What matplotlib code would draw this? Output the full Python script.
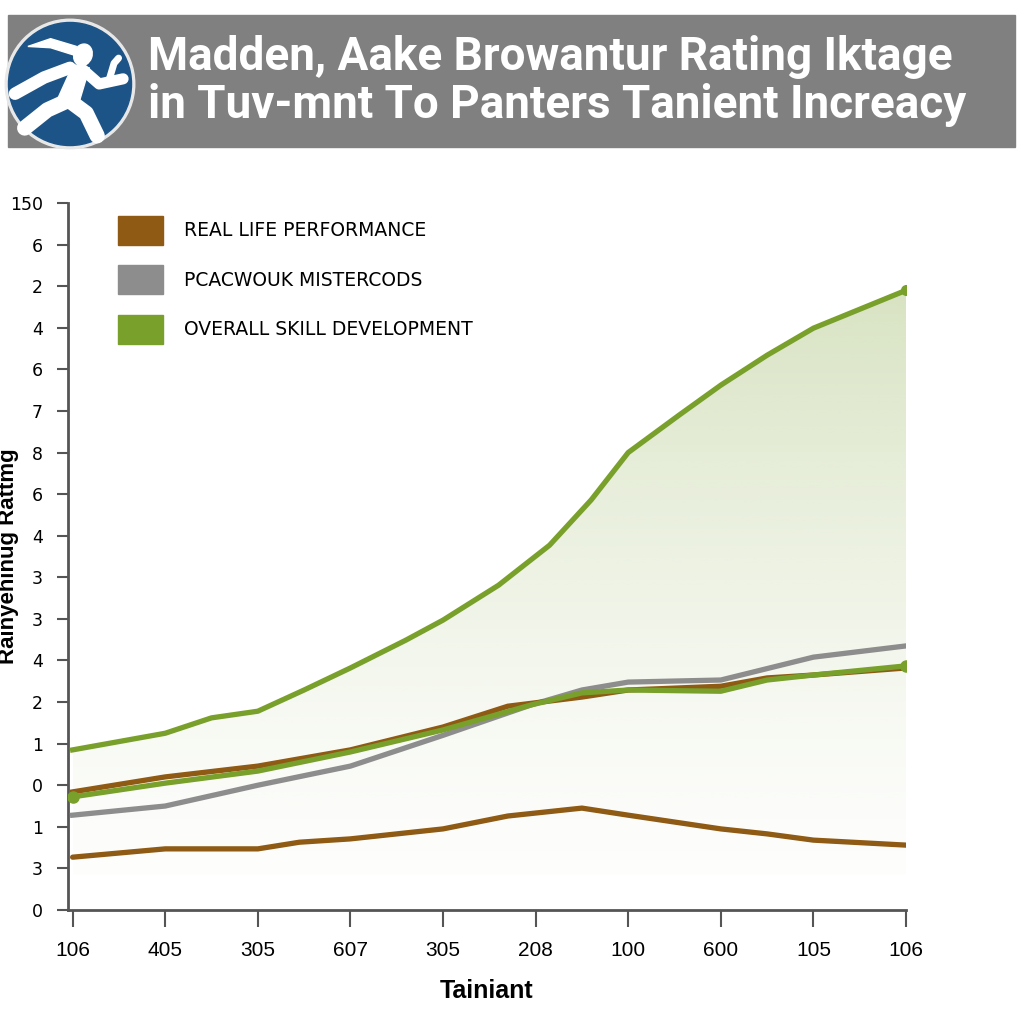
import matplotlib
matplotlib.use("Agg")
import matplotlib.pyplot as plt
import numpy as np
from matplotlib.patches import Rectangle, Circle, Ellipse, Polygon, Patch

# chart values
x_labels = ["106", "405", "305", "607", "305", "208", "100", "600", "105", "106"]
y_labels = ["0", "3", "1", "0", "1", "2", "4", "3", "3", "4", "6", "8", "7", "6", "4", "2", "6", "150"]

skill_top_x = [0, 1, 1.5, 2, 2.5, 3, 3.6, 4, 4.6, 5.15, 5.6, 6, 6.55, 7, 7.5, 8, 9]
skill_top_y = [3.85, 4.25, 4.62, 4.78, 5.29, 5.82, 6.49, 6.97, 7.81, 8.77, 9.86, 11.0, 11.9, 12.62, 13.34, 13.99, 14.9]

real_top_x = [0, 1, 2, 3, 4, 4.7, 5.5, 6, 7, 7.5, 8, 9]
real_top_y = [2.84, 3.2, 3.46, 3.85, 4.4, 4.9, 5.12, 5.29, 5.38, 5.58, 5.65, 5.82]

gray_x = [0, 1, 2, 3, 4, 4.95, 5.5, 6, 7, 8, 9]
gray_y = [2.28, 2.5, 3.0, 3.46, 4.2, 4.93, 5.29, 5.48, 5.53, 6.08, 6.35]

skill_low_x = [0, 1, 2, 3, 4, 4.95, 5.5, 6, 7, 7.5, 8, 9]
skill_low_y = [2.72, 3.05, 3.34, 3.8, 4.33, 4.93, 5.22, 5.29, 5.26, 5.53, 5.65, 5.87]

real_low_x = [0, 1, 2, 2.45, 3, 4, 4.7, 5.5, 6, 7, 7.5, 8, 9]
real_low_y = [1.27, 1.47, 1.47, 1.63, 1.71, 1.95, 2.26, 2.45, 2.28, 1.95, 1.83, 1.68, 1.56]

legend_names = ["REAL LIFE PERFORMANCE", "PCACWOUK MISTERCODS", "OVERALL SKILL DEVELOPMENT"]

brown = "#8e5a14"
gray = "#8d8d8d"
green = "#78a02a"

fig = plt.figure(figsize=(10.24, 10.24), dpi=100)
W = H = 1024.0

# title banner
fig.patches.append(Rectangle((8 / W, 1 - 147 / H), 1007 / W, 132 / H,
                             transform=fig.transFigure, color="#808080", zorder=-5))
fig.text(148 / W, 1 - 57 / H, "Madden, Aake Browantur Rating Iktage", color="white",
         fontsize=33, fontweight="bold", family="Roboto", va="center", ha="left")
fig.text(148 / W, 1 - 105 / H, "in Tuv-mnt To Panters Tanient Increacy", color="white",
         fontsize=33, fontweight="bold", family="Roboto", va="center", ha="left")

# logo
lax = fig.add_axes([2 / W, 1 - 152 / H, 136 / W, 136 / H], zorder=5)
lax.set_xlim(-1.05, 1.05)
lax.set_ylim(-1.05, 1.05)
lax.set_aspect("equal")
lax.axis("off")
lax.add_patch(Circle((0, 0), 1.0, color="#e8e8e8"))
lax.add_patch(Circle((0, 0), 0.95, color="#1d5487"))
w = "white"
lax.add_patch(Ellipse((0.2, 0.45), 0.28, 0.34, angle=-20, color=w))
lax.add_patch(Polygon([(0.1, 0.58), (-0.3, 0.7), (-0.65, 0.58), (-0.3, 0.56), (0.05, 0.45)], color=w))
lax.add_patch(Polygon([(0.05, 0.3), (0.3, 0.25), (0.15, -0.25), (-0.2, -0.25)], color=w))
for xs, ys, lw in [([0.0, -0.4, -0.85], [0.25, 0.1, -0.15], 9),
                   ([0.2, 0.45, 0.82], [0.22, 0.0, 0.08], 8),
                   ([0.6, 0.68, 0.75], [0.05, 0.32, 0.4], 5),
                   ([-0.02, 0.25, 0.42], [-0.25, -0.45, -0.8], 11),
                   ([-0.02, -0.35, -0.7], [-0.25, -0.4, -0.68], 11)]:
    lax.plot(xs, ys, color=w, lw=lw, solid_capstyle="round")

# main axes
ax = fig.add_axes([68 / W, 1 - 910 / H, 838 / W, 707 / H])
ax.set_xlim(-0.05, 9)
ax.set_ylim(0, 17)

# gradient fill under the top green line
top_x = np.array(skill_top_x)
top_y = np.array(skill_top_y)
fill = ax.fill_between(top_x, 0.85, top_y, color="none", lw=0)
grad = np.linspace(0, 1, 256).reshape(-1, 1)
rgba = np.zeros((256, 1, 4))
rgba[:, 0, :3] = matplotlib.colors.to_rgb("#b4c98a")
rgba[:, 0, 3] = 0.02 + 0.5 * grad[:, 0] ** 1.3
img = ax.imshow(rgba, extent=[0, 9, 0.85, 15], origin="lower", aspect="auto", zorder=1)
img.set_clip_path(fill.get_paths()[0], transform=ax.transData)

lw = 3.8
ax.plot(real_low_x, real_low_y, color=brown, lw=lw, zorder=3, solid_capstyle="round")
ax.plot(gray_x, gray_y, color=gray, lw=lw, zorder=3)
ax.plot(real_top_x, real_top_y, color=brown, lw=lw, zorder=3)
ax.plot(skill_low_x, skill_low_y, color=green, lw=lw, zorder=4,
        marker="o", markevery=[0, len(skill_low_x) - 1], markersize=8)
ax.plot(skill_top_x, skill_top_y, color=green, lw=lw, zorder=4,
        marker="o", markevery=[len(skill_top_x) - 1], markersize=7)

ax.set_xticks(range(len(x_labels)))
ax.set_xticklabels(x_labels, family="Liberation Sans", fontsize=15)
ax.set_yticks(range(len(y_labels)))
ax.set_yticklabels(y_labels, family="DejaVu Sans", fontsize=12.5)
ax.tick_params(axis="x", length=12, width=1.5, color="#555555", pad=10)
ax.tick_params(axis="y", length=8, width=1.5, color="#555555", pad=10)
for s in ["top", "right"]:
    ax.spines[s].set_visible(False)
for s in ["left", "bottom"]:
    ax.spines[s].set_color("#555555")
    ax.spines[s].set_linewidth(2)

ax.set_xlabel("Tainiant", fontsize=18, fontweight="bold", family="Liberation Sans", labelpad=14)
ax.set_ylabel("Rainyehinug Rattmg", fontsize=16, fontweight="bold", family="Liberation Sans")
ax.yaxis.set_label_coords(-0.058, 0.5)

handles = [Patch(color=c) for c in [brown, gray, green]]
ax.legend(handles, legend_names, loc="upper left", bbox_to_anchor=(0.04, 1.006),
          frameon=False, handlelength=2.4, handleheight=2.0, labelspacing=1.1,
          handletextpad=1.1, prop={"family": "DejaVu Sans", "size": 13.5})

fig.savefig("out.png", dpi=100)
